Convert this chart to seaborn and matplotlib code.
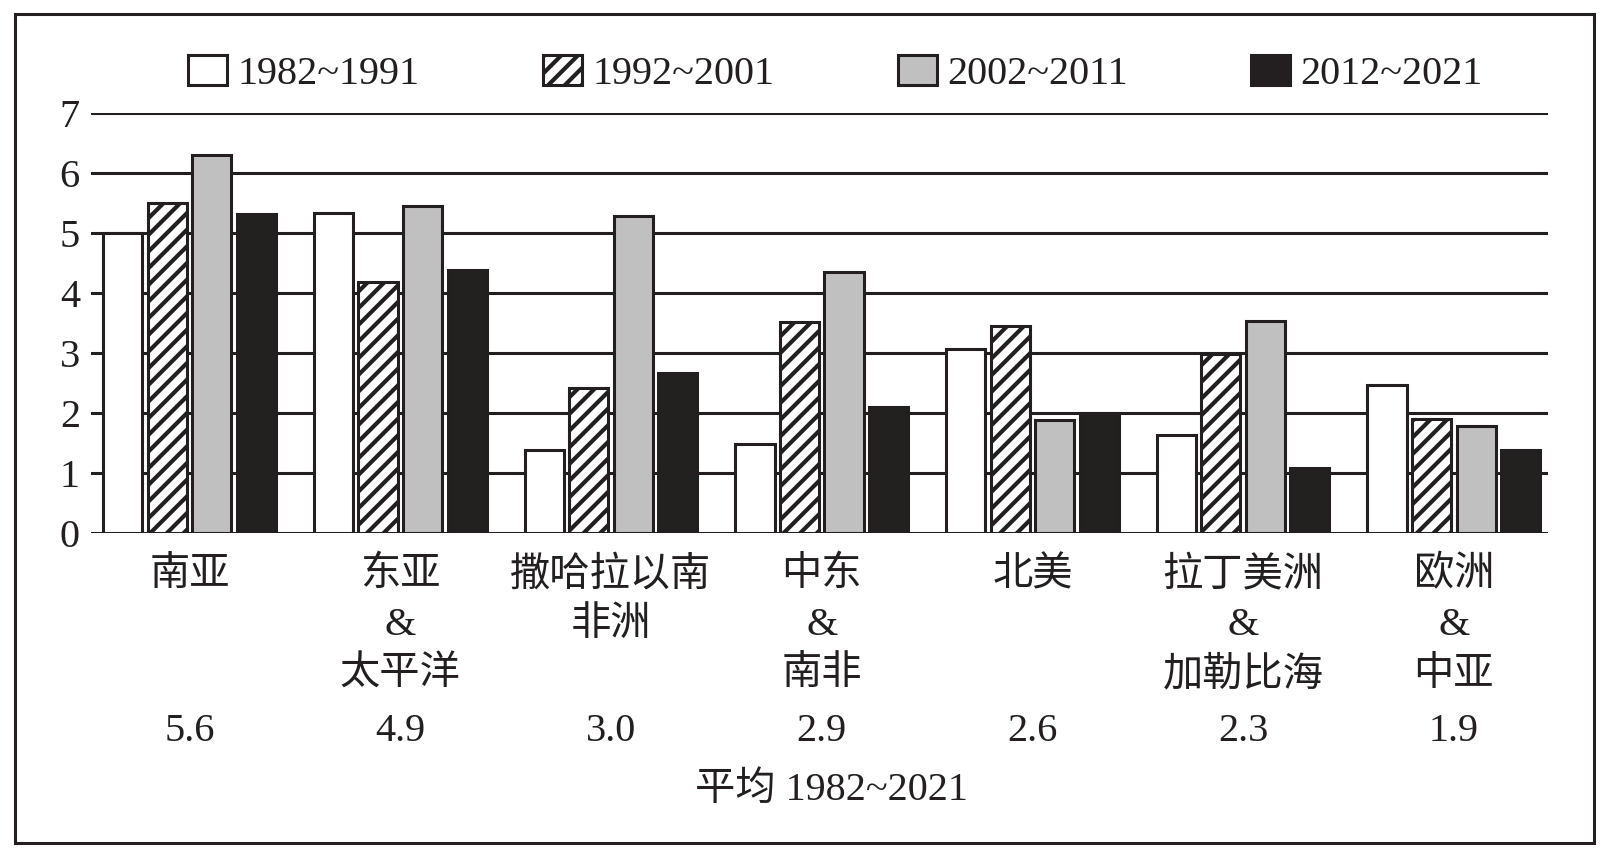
import matplotlib
matplotlib.use('Agg')
import matplotlib.pyplot as plt
import matplotlib.transforms as mtransforms
from matplotlib.patches import Patch, Rectangle
import pandas as pd
import seaborn as sns

# ── Data ─────────────────────────────────────────────────────────────────────
regions = ["南亚", "东亚\n&\n太平洋", "撒哈拉以南\n非洲", "中东\n&\n南非",
           "北美", "拉丁美洲\n&\n加勒比海", "欧洲\n&\n中亚"]
periods = ["1982~1991", "1992~2001", "2002~2011", "2012~2021"]
v_1982 = [5.0, 5.34, 1.38, 1.49, 3.06, 1.64, 2.46]
v_1992 = [5.5, 4.18, 2.41, 3.52, 3.45, 2.99, 1.90]
v_2002 = [6.3, 5.45, 5.29, 4.35, 1.88, 3.53, 1.79]
v_2012 = [5.31, 4.39, 2.66, 2.10, 2.00, 1.09, 1.38]
averages = ["5.6", "4.9", "3.0", "2.9", "2.6", "2.3", "1.9"]
yticks = [0, 1, 2, 3, 4, 5, 6, 7]

INK = "#231f20"
colors = ["#ffffff", "#ffffff", "#c0c0c0", INK]
hatches = ["", "//", "", ""]
HATCH_LW = 3.0

df = pd.DataFrame({
    "region": regions * 4,
    "period": [p for p in periods for _ in regions],
    "value": v_1982 + v_1992 + v_2002 + v_2012,
})

sns.set_style("white")
plt.rcParams['font.family'] = ['Liberation Serif', 'Noto Sans CJK SC']
plt.rcParams['hatch.linewidth'] = HATCH_LW
plt.rcParams['hatch.color'] = INK

fig = plt.figure(figsize=(16.08, 8.52), dpi=100)
ax = fig.add_axes([0.0566, 0.3744, 0.9061, 0.4930])

sns.barplot(data=df, x="region", y="value", hue="period", hue_order=periods,
            palette=colors, width=0.845, gap=0.12, edgecolor=INK,
            linewidth=2.2, legend=False, ax=ax, zorder=3)

for cont, h in zip(ax.containers, hatches):
    for bar in cont:
        bar.set_hatch(h)
        bar.set_edgecolor(INK)
        if hasattr(bar, "set_hatch_linewidth"):
            bar.set_hatch_linewidth(HATCH_LW)

ax.set_ylim(0, 7)
ax.set_xlim(-0.468, 6.447)
ax.set_yticks(yticks)
ax.set_axisbelow(True)
ax.grid(axis='y', color=INK, linewidth=2.2)
ax.grid(axis='x', visible=False)
for s in ax.spines.values():
    s.set_visible(False)
ax.set_xlabel("")
ax.set_ylabel("")
ax.tick_params(axis='y', length=0, pad=8, labelsize=29, colors=INK)
ax.tick_params(axis='x', length=0, pad=17, labelsize=29, colors=INK)
for lbl in ax.get_xticklabels():
    lbl.set_linespacing(1.45)

# averages under each region
trans = mtransforms.blended_transform_factory(ax.transData, ax.transAxes)
for i, a in enumerate(averages):
    ax.text(i, -0.472, a, transform=trans, ha='center', va='center',
            fontsize=29, color=INK)

fig.text(0.517, 0.0728, "平均 1982~2021", ha='center', va='center',
         fontsize=29, color=INK)

handles = []
for c, h in zip(colors, hatches):
    p = Patch(facecolor=c, edgecolor=INK, hatch=h, linewidth=2.2)
    if hasattr(p, "set_hatch_linewidth"):
        p.set_hatch_linewidth(HATCH_LW)
    handles.append(p)
fig.legend(handles, periods, loc='center', bbox_to_anchor=(0.5196, 0.913),
           ncol=4, frameon=False, fontsize=29, handlelength=0.97,
           handleheight=0.78, handletextpad=0.25, columnspacing=3.07,
           labelcolor=INK)

# outer frame
fig.patches.append(Rectangle((15 / 1608, 1 - 843 / 852), 1579 / 1608, 829 / 852,
                             transform=fig.transFigure, fill=False,
                             edgecolor=INK, linewidth=2.2))

fig.savefig("out.png", dpi=100)
